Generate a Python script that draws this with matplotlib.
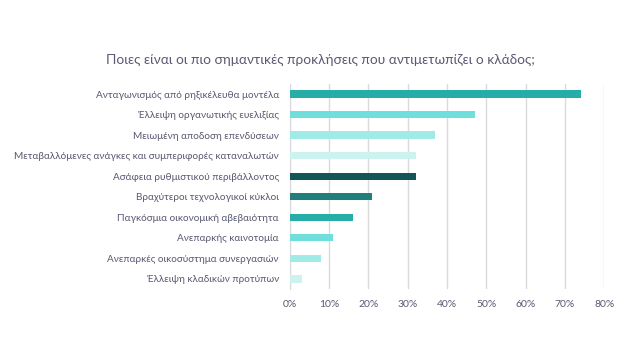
import matplotlib
matplotlib.use('Agg')
import matplotlib.pyplot as plt
from matplotlib.ticker import PercentFormatter

plt.rcParams['font.family'] = ['Lato', 'DejaVu Sans']

labels = [
    'Ανταγωνισμός από ρηξικέλευθα μοντέλα',
    'Έλλειψη οργανωτικής ευελιξίας',
    'Μειωμένη αποδοση επενδύσεων',
    'Μεταβαλλόμενες ανάγκες και συμπεριφορές καταναλωτών',
    'Ασάφεια ρυθμιστικού περιβάλλοντος',
    'Βραχύτεροι τεχνολογικοί κύκλοι',
    'Παγκόσμια οικονομική αβεβαιότητα',
    'Ανεπαρκής καινοτομία',
    'Ανεπαρκές οικοσύστημα συνεργασιών',
    'Έλλειψη κλαδικών προτύπων',
]
values = [74, 47, 37, 32, 32, 21, 16, 11, 8, 3]
colors = ['#26ADA8', '#6EDFDC', '#A0EAE7', '#CDF3F1', '#135657',
          '#1E7F7C', '#26ADA8', '#6EDFDC', '#A0EAE7', '#CDF3F1']

text_color = '#595972'
grid_color = '#D9D9DE'

fig = plt.figure(figsize=(6.4, 3.6), dpi=100)
ax = fig.add_axes([0.453, 0.197, 0.491, 0.57])

y = list(range(len(labels)))
ax.barh(y, values, height=0.36, color=colors, zorder=3)
ax.set_yticks(y)
ax.set_yticklabels(labels)
ax.set_ylim(9.5, -0.5)
ax.set_xlim(0, 80)
ax.set_xticks(range(0, 81, 10))
ax.xaxis.set_major_formatter(PercentFormatter(decimals=0))
ax.grid(axis='x', color=grid_color, linewidth=1, zorder=0)
for s in ['top', 'right', 'bottom']:
    ax.spines[s].set_visible(False)
ax.spines['left'].set_color(grid_color)
ax.tick_params(length=0, colors=text_color, labelsize=7.5)
ax.tick_params(axis='y', pad=8, labelsize=7.2)
ax.tick_params(axis='x', pad=8)

fig.text(0.50, 0.835, 'Ποιες είναι οι πιο σημαντικές προκλήσεις που αντιμετωπίζει ο κλάδος;',
         ha='center', va='center', color=text_color, fontsize=9.8)

fig.savefig('out.png', dpi=100)
